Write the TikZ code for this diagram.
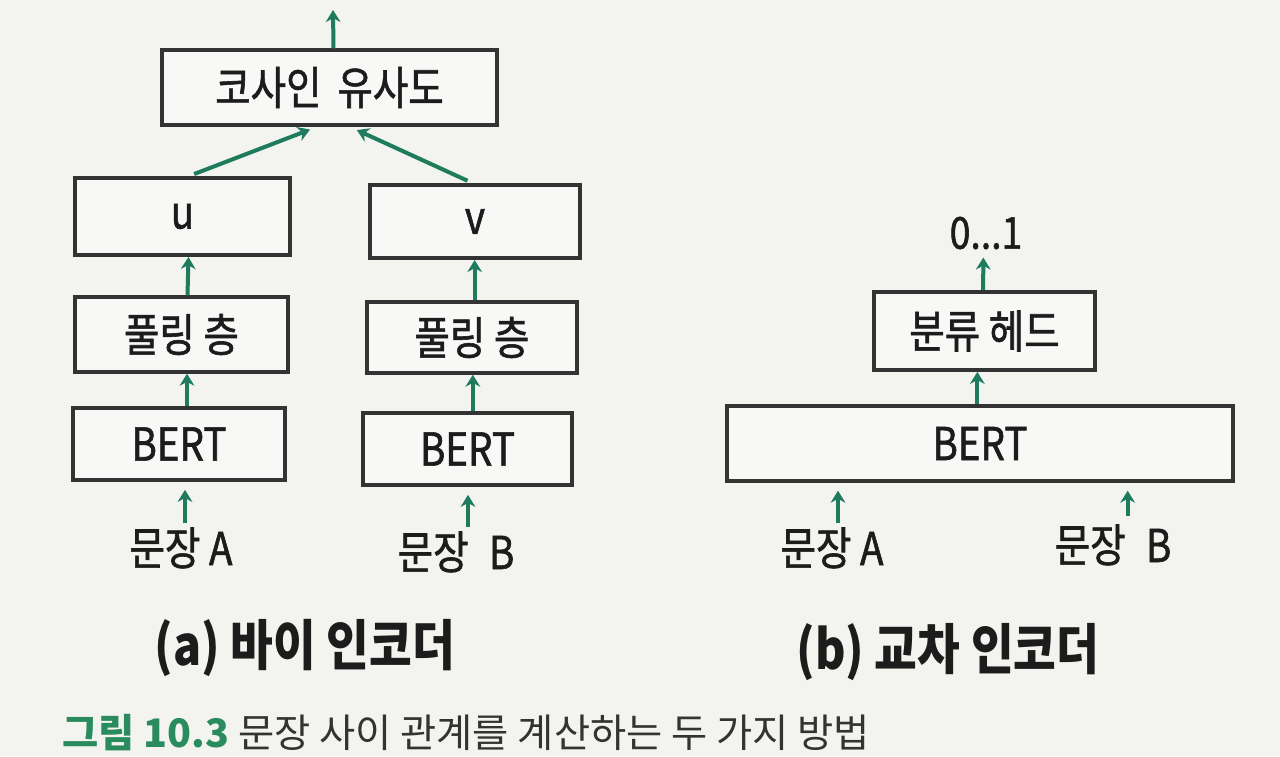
\documentclass[tikz,border=0pt]{standalone}
\usepackage{fontspec}
\setmainfont{Noto Sans CJK KR}
\newfontfamily\hand[FakeStretch=0.85]{Noto Sans CJK KR}
\newfontfamily\handm[FakeStretch=0.85,FakeBold=1.3]{Noto Sans CJK KR}
\usetikzlibrary{arrows.meta}
\definecolor{bg}{HTML}{F3F3F0}
\definecolor{boxfill}{HTML}{F8F8F6}
\definecolor{arrowgreen}{HTML}{1E7B5E}
\definecolor{capgreen}{HTML}{2A8C5E}
\definecolor{ink}{HTML}{1C1C1C}
\definecolor{edge}{HTML}{333333}
\tikzset{
  stagebox/.style={draw=edge, line width=2.8pt, fill=boxfill, text=ink, inner sep=0pt,
    font=\handm\fontsize{34}{37}\selectfont},
  lbl/.style={text=ink, inner sep=0pt, font=\handm\fontsize{34}{37}\selectfont},
  sublbl/.style={text=ink, inner sep=0pt, font=\hand\bfseries\fontsize{41}{44}\selectfont},
  arr/.style={draw=arrowgreen, line width=3pt, -{Stealth[length=9pt,width=11pt]}}
}
\begin{document}
\begin{tikzpicture}[x=0.75pt,y=-0.75pt]
\useasboundingbox (0,0) rectangle (1280,756);
\fill[bg] (0,0) rectangle (1280,756);

% (a) bi-encoder
\node[stagebox, minimum width=251pt, minimum height=56pt] (cos) at (329.5,87.5) {코사인\hspace{0.35em}유사도};
\node[stagebox, minimum width=161pt, minimum height=58pt] (u) at (182.5,216.5) {u};
\node[stagebox, minimum width=157.5pt, minimum height=55pt] (v) at (475,221.5) {v};
\node[stagebox, minimum width=160pt, minimum height=56pt] (poolA) at (181.5,334.5) {풀링 층};
\node[stagebox, minimum width=157.5pt, minimum height=53pt] (poolB) at (472,337.5) {풀링 층};
\node[stagebox, minimum width=159pt, minimum height=54pt] (bertA) at (179,444) {BERT};
\node[stagebox, minimum width=157pt, minimum height=54pt] (bertB) at (467.5,449) {BERT};
\node[lbl] (sa1) at (181,548) {문장 A};
\node[lbl] (sb1) at (456,552) {문장\hspace{0.45em}B};
\node[sublbl] (capa) at (305,648) {(a) 바이 인코더};
\coordinate (outA) at (333,10);

% (b) cross-encoder
\node[lbl, font=\handm\fontsize{33}{36}\selectfont] (o1) at (986,233) {0...1};
\node[stagebox, minimum width=166pt, minimum height=58.5pt] (head) at (984.5,331) {분류 헤드};
\node[stagebox, minimum width=380pt, minimum height=56pt] (bertC) at (980,443.5) {BERT};
\node[lbl] (sa2) at (832,548) {문장 A};
\node[lbl] (sb2) at (1113,545) {문장\hspace{0.45em}B};
\node[sublbl] (capb) at (948,652) {(b) 교차 인코더};

% caption
\node[anchor=west, inner sep=0pt, text=ink!90, font=\fontsize{29.5}{32}\selectfont] (cap) at (62,733)
  {\textcolor{capgreen}{\bfseries 그림 10.3} 문장 사이 관계를 계산하는 두 가지 방법};

% connectors (a)
\draw[arr] ([xshift=3pt]cos.north) -- (outA);
\draw[arr, shorten <=4pt, shorten >=6pt] ([xshift=5pt]u.north) -- ([xshift=-9pt]cos.south);
\draw[arr, shorten <=4pt, shorten >=6pt] ([xshift=-2pt]v.north) -- ([xshift=15pt]cos.south);
\draw[arr] ([xshift=4.5pt]poolA.north) -- ([xshift=4.5pt]u.south);
\draw[arr] ([xshift=2pt]poolB.north) -- ([xshift=2pt]poolB.north |- v.south);
\draw[arr] ([xshift=6pt]bertA.north) -- ([xshift=6pt]bertA.north |- poolA.south);
\draw[arr] ([xshift=4pt]bertB.north) -- ([xshift=4pt]bertB.north |- poolB.south);
\draw[arr, shorten <=3pt, shorten >=6pt] ([xshift=3pt]sa1.north) -- ([xshift=3pt]sa1.north |- bertA.south);
\draw[arr, shorten <=3pt, shorten >=6pt] ([xshift=9pt]sb1.north) -- ([xshift=9pt]sb1.north |- bertB.south);

% connectors (b)
\draw[arr, shorten >=6pt] ([xshift=-1pt]head.north) -- ([xshift=-2pt]o1.south);
\draw[arr] ([xshift=-2pt]bertC.north) -- ([xshift=-2pt]bertC.north |- head.south);
\draw[arr, shorten <=3pt, shorten >=6pt] ([xshift=4.5pt]sa2.north) -- ([xshift=4.5pt]sa2.north |- bertC.south);
\draw[arr, shorten <=6pt, shorten >=6pt] ([xshift=11pt]sb2.north) -- ([xshift=11pt]sb2.north |- bertC.south);
\end{tikzpicture}
\end{document}
